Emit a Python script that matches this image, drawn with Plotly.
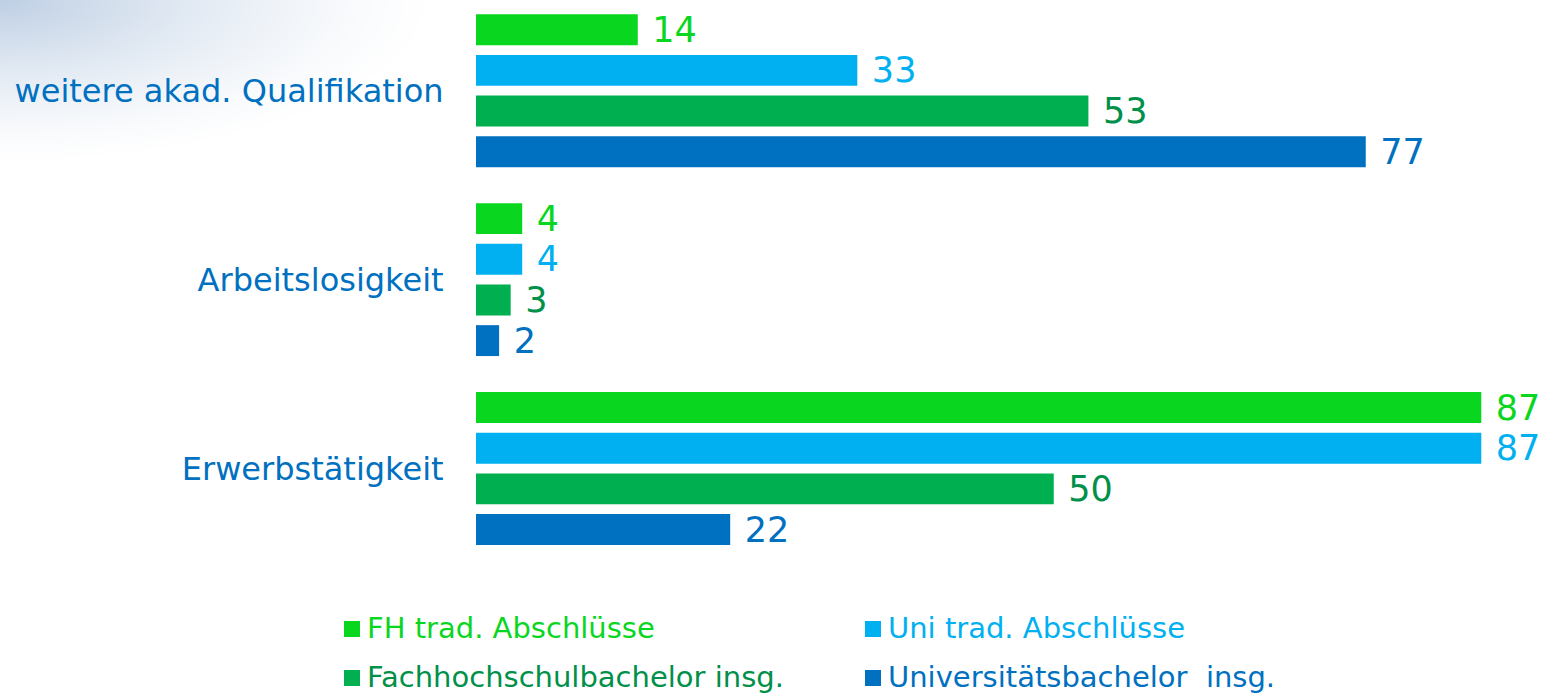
import base64, struct, zlib
import numpy as np
import plotly.graph_objects as go

# ---- data ----
categories = ["Erwerbstätigkeit", "Arbeitslosigkeit", "weitere akad. Qualifikation"]
series_names = ["FH trad. Abschlüsse", "Uni trad. Abschlüsse",
                "Fachhochschulbachelor insg.", "Universitätsbachelor  insg."]
fh_trad = [87, 4, 14]
uni_trad = [87, 4, 33]
fh_bachelor = [50, 3, 53]
uni_bachelor = [22, 2, 77]
series_values = [fh_trad, uni_trad, fh_bachelor, uni_bachelor]

bar_colors = ["#09D61F", "#00B0F0", "#00AF50", "#0070C0"]
text_colors = ["#09D61F", "#00B0F0", "#00904A", "#0070C0"]

W, H = 1548, 697
ML, MR, MT, MB = 476, 0, 0, 134
PW, PH = W - ML - MR, H - MT - MB
X_MAX = PW / 11.555

def px_x(px):
    return (px - ML) / PW

def px_y(py):
    return 1 - (py - MT) / PH

# ---- background gradient (top-left corner) ----
def make_png(w, h):
    yy, xx = np.mgrid[0:h, 0:w].astype(float)
    t = np.sqrt((xx / 440.0) ** 2 + (yy / 165.0) ** 2)
    a = np.clip(1 - t, 0, 1) ** 1.4
    base = np.array([190, 207, 228], dtype=float)
    img = 255 - a[..., None] * (255 - base)
    img = np.round(img).astype(np.uint8)
    raw = b"".join(b"\x00" + img[r].tobytes() for r in range(h))
    def chunk(tag, data):
        c = struct.pack(">I", len(data)) + tag + data
        return c + struct.pack(">I", zlib.crc32(tag + data) & 0xffffffff)
    png = b"\x89PNG\r\n\x1a\n" + chunk(b"IHDR", struct.pack(">IIBBBBB", w, h, 8, 2, 0, 0, 0))
    png += chunk(b"IDAT", zlib.compress(raw, 9)) + chunk(b"IEND", b"")
    return "data:image/png;base64," + base64.b64encode(png).decode()

GW, GH = 470, 180
bg_img = make_png(GW, GH)

fig = go.Figure()
# add in reverse so the first series appears on top inside each group
for i in reversed(range(4)):
    fig.add_trace(go.Bar(
        y=categories, x=series_values[i], orientation="h", name=series_names[i],
        marker=dict(color=bar_colors[i], line=dict(width=0)),
        text=series_values[i], texttemplate="\u2004%{x}", textposition="outside",
        textfont=dict(family="DejaVu Sans", size=35, color=text_colors[i]),
        constraintext="none", cliponaxis=False, showlegend=False,
    ))

shapes, annotations = [], []
legend_pos = [(344, 628), (865, 628), (344, 677), (865, 677)]
for i, (lx, ly) in enumerate(legend_pos):
    shapes.append(dict(type="rect", xref="paper", yref="paper",
                       x0=px_x(lx), x1=px_x(lx + 16), y0=px_y(ly + 9), y1=px_y(ly - 7),
                       fillcolor=bar_colors[i], line=dict(width=0)))
    annotations.append(dict(xref="paper", yref="paper", x=px_x(lx + 21), y=px_y(ly),
                            xanchor="left", yanchor="middle", showarrow=False,
                            text=series_names[i].replace("  ", "\u00a0 "),
                            font=dict(family="DejaVu Sans", size=29, color=text_colors[i])))

fig.update_layout(
    width=W, height=H, barmode="group", bargap=0.139, bargroupgap=0.24,
    margin=dict(l=ML, r=MR, t=MT, b=MB, pad=0),
    paper_bgcolor="white", plot_bgcolor="rgba(0,0,0,0)",
    xaxis=dict(range=[0, X_MAX], visible=False, fixedrange=True),
    yaxis=dict(type="category", categoryorder="array", categoryarray=categories,
               range=[-0.5, 2.48], showgrid=False, zeroline=False, showline=False,
               ticks="outside", ticklen=25, tickcolor="rgba(0,0,0,0)",
               tickfont=dict(family="DejaVu Sans", size=32, color="#0070C0")),
    shapes=shapes, annotations=annotations,
    images=[dict(source=bg_img, xref="paper", yref="paper", x=px_x(0), y=px_y(0),
                 sizex=GW / PW, sizey=GH / PH, sizing="stretch", xanchor="left",
                 yanchor="top", layer="below")],
    showlegend=False,
)

fig.write_html("out.html", config={"displayModeBar": False},
               post_script="document.body.style.margin='0';document.body.style.overflow='hidden';")
